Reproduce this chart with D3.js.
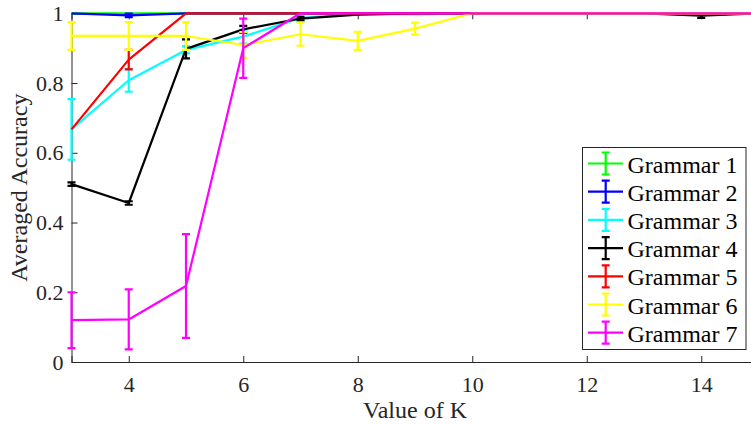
<!DOCTYPE html>
<html>
<head>
<meta charset="utf-8">
<script src="https://cdn.jsdelivr.net/npm/d3@7/dist/d3.min.js"></script>
<style>
  html, body { margin: 0; padding: 0; background: #fff; }
</style>
</head>
<body>
<svg id="chart" width="751" height="425"></svg>
<script>
// ---- data ----
const kValues = [3, 4, 5, 6, 7, 8, 9, 10, 11, 12, 13, 14, 15];
const seriesNames = ["Grammar 1", "Grammar 2", "Grammar 3", "Grammar 4", "Grammar 5", "Grammar 6", "Grammar 7"];
const seriesColors = ["#00ff00", "#0000ff", "#00ffff", "#000000", "#ff0000", "#ffff00", "#ff00ff"];

const grammar1 = [1, 1, 1, 1, 1, 1, 1, 1, 1, 1, 1, 1, 1];
const grammar2 = [1, 0.994, 1, 1, 1, 1, 1, 1, 1, 1, 1, 1, 1];
const grammar3 = [0.667, 0.808, 0.895, 0.933, 0.987, 0.998, 0.997, 1, 1, 1, 1, 1, 1];
const grammar4 = [0.51, 0.456, 0.898, 0.954, 0.985, 0.996, 1, 1, 1, 1, 1, 0.993, 1];
const grammar5 = [0.667, 0.867, 1, 1, 1, 1, 1, 1, 1, 1, 1, 1, 1];
const grammar6 = [0.935, 0.935, 0.935, 0.909, 0.94, 0.921, 0.956, 1, 1, 1, 1, 1, 1];
const grammar7 = [0.12, 0.122, 0.218, 0.9, 1, 1, 1, 1, 1, 1, 1, 1, 1];

const error1 = [0, 0, 0, 0, 0, 0, 0, 0, 0, 0, 0, 0, 0];
const error2 = [0, 0.005, 0, 0, 0, 0, 0, 0, 0, 0, 0, 0, 0];
const error3 = [0.087, 0.033, 0.01, 0.02, 0.01, 0, 0, 0, 0, 0, 0, 0, 0];
const error4 = [0.005, 0.005, 0.027, 0.01, 0.005, 0, 0, 0, 0, 0, 0, 0.006, 0];
const error5 = [0, 0.028, 0, 0, 0, 0, 0, 0, 0, 0, 0, 0, 0];
const error6 = [0.04, 0.04, 0.04, 0.037, 0.033, 0.026, 0.017, 0, 0, 0, 0, 0, 0];
const error7 = [0.08, 0.086, 0.149, 0.085, 0, 0, 0, 0, 0, 0, 0, 0, 0];

const xTicks = [4, 6, 8, 10, 12, 14];
const yTicks = [0, 0.2, 0.4, 0.6, 0.8, 1];
const xLabel = "Value of K";
const yLabel = "Averaged Accuracy";

const seriesValues = [grammar1, grammar2, grammar3, grammar4, grammar5, grammar6, grammar7];
const seriesErrors = [error1, error2, error3, error4, error5, error6, error7];

// ---- layout ----
const FONT = "'Liberation Serif', 'Times New Roman', serif";
const svg = d3.select("#chart");
const axisColor = "#262626";
const x = d3.scaleLinear().domain([3, 15]).range([71.5, 758.5]);
const y = d3.scaleLinear().domain([0, 1]).range([362, 13.3]);

function serif(sel, size) {
  return sel.attr("font-family", FONT).attr("font-size", size)
    .style("font-family", FONT).style("font-size", size + "px");
}

// axes
const gx = svg.append("g").attr("transform", `translate(0,${y(0)})`)
  .call(d3.axisBottom(x).tickValues(xTicks).tickSize(-6).tickPadding(14).tickFormat(d3.format("d")));
const gxTop = svg.append("g").attr("transform", `translate(0,${y(1)})`)
  .call(d3.axisTop(x).tickValues(xTicks).tickSize(-6).tickFormat(""));
const gy = svg.append("g").attr("transform", `translate(${x(3)},0)`)
  .call(d3.axisLeft(y).tickValues(yTicks).tickSize(-6).tickPadding(8)
    .tickFormat(d => d === 0 || d === 1 ? String(d) : d3.format(".1f")(d)));

[gx, gxTop, gy].forEach(g => {
  serif(g, 22);
  g.select(".domain").attr("stroke", axisColor).attr("stroke-width", 1);
  g.selectAll(".tick line").attr("stroke", axisColor).attr("stroke-width", 1);
  serif(g.selectAll(".tick text").attr("fill", axisColor), 22);
});

// axis labels
serif(svg.append("text").attr("x", (x(3) + x(15)) / 2).attr("y", 418)
  .attr("text-anchor", "middle").attr("fill", axisColor), 24).text(xLabel);
serif(svg.append("text").attr("transform", `translate(27,${(y(0) + y(1)) / 2}) rotate(-90)`)
  .attr("text-anchor", "middle").attr("fill", axisColor), 24).text(yLabel);

// series
const line = d3.line().x(d => x(d.k)).y(d => y(d.v));
const capW = 4;
seriesValues.forEach((vals, si) => {
  const pts = kValues.map((k, i) => ({ k, v: vals[i], e: seriesErrors[si][i] }));
  const g = svg.append("g");
  g.append("path").datum(pts).attr("d", line).attr("fill", "none")
    .attr("stroke", seriesColors[si]).attr("stroke-width", 2.2).attr("stroke-linejoin", "round");
  const eb = pts.filter(p => p.e > 0);
  g.selectAll(".eb").data(eb).enter().append("path")
    .attr("d", p => {
      const cx = x(p.k), y1 = y(p.v + p.e), y0 = y(p.v - p.e);
      return `M${cx},${y0}L${cx},${y1}M${cx - capW},${y1}L${cx + capW},${y1}M${cx - capW},${y0}L${cx + capW},${y0}`;
    })
    .attr("fill", "none").attr("stroke", seriesColors[si]).attr("stroke-width", 2.2);
});

// legend
const lg = svg.append("g");
lg.append("rect").attr("x", 582.5).attr("y", 147.5).attr("width", 163.5).attr("height", 202)
  .attr("fill", "#fff").attr("stroke", axisColor).attr("stroke-width", 1);
seriesNames.forEach((name, i) => {
  const ry = 163.5 + i * 28.2;
  lg.append("path").attr("d", `M588,${ry}L623,${ry}`).attr("stroke", seriesColors[i]).attr("stroke-width", 2.2);
  lg.append("path").attr("d", `M605.7,${ry - 11}L605.7,${ry + 11}M${605.7 - capW},${ry - 11}L${605.7 + capW},${ry - 11}M${605.7 - capW},${ry + 11}L${605.7 + capW},${ry + 11}`)
    .attr("stroke", seriesColors[i]).attr("stroke-width", 2.2).attr("fill", "none");
  serif(lg.append("text").attr("x", 627.5).attr("y", ry + 9).attr("fill", "#000"), 24).text(name);
});
</script>
</body>
</html>
